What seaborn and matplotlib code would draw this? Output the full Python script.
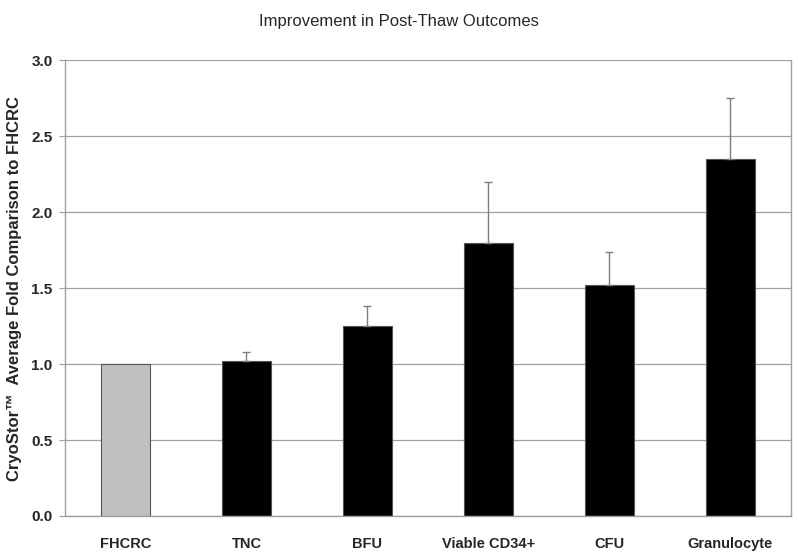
import matplotlib
matplotlib.use("Agg")
import matplotlib.pyplot as plt
import numpy as np
import pandas as pd
import seaborn as sns

# data
categories = ["FHCRC", "TNC", "BFU", "Viable CD34+", "CFU", "Granulocyte"]
fold_change = [1.00, 1.02, 1.25, 1.80, 1.52, 2.35]
error_upper = [0.00, 0.06, 0.13, 0.40, 0.22, 0.40]
bar_colors = ["#c0c0c0", "#000000", "#000000", "#000000", "#000000", "#000000"]

df = pd.DataFrame({"category": categories, "fold": fold_change})

sns.set_style("white")
plt.rcParams["font.family"] = ["Liberation Sans", "DejaVu Sans"]

fig = plt.figure(figsize=(7.98, 5.58), dpi=100)
ax = fig.add_axes([0.0815, 0.0753, 0.9095, 0.8167])

sns.barplot(data=df, x="category", y="fold", hue="category", palette=bar_colors,
            legend=False, width=0.4, edgecolor="#555555", linewidth=0.8, ax=ax)

# upper-only error bars
x = np.arange(len(categories))
mask = np.array(error_upper) > 0
ax.errorbar(x[mask], np.array(fold_change)[mask],
            yerr=[np.zeros(mask.sum()), np.array(error_upper)[mask]],
            fmt="none", ecolor="#7f7f7f", elinewidth=1, capsize=3, capthick=1)

ax.set_ylim(0, 3.0)
ax.set_xlim(-0.5, len(categories) - 0.5)
ax.set_yticks(np.arange(0, 3.01, 0.5))
ax.set_yticklabels([f"{v:.1f}" for v in np.arange(0, 3.01, 0.5)],
                   fontsize=11, fontweight="bold")
ax.yaxis.grid(True, color="#a0a0a0", linewidth=0.9)
ax.set_axisbelow(True)

# category labels centred, tick marks at category boundaries
ax.set_xticks(x)
ax.set_xticklabels(categories, fontsize=10.5, fontweight="bold")
ax.tick_params(axis="x", length=0, pad=15)
ax.set_xticks(np.arange(-0.5, len(categories), 1), minor=True)
ax.tick_params(axis="x", which="minor", length=4, color="#a0a0a0", direction="out")
ax.tick_params(axis="y", length=4, color="#a0a0a0", direction="out", left=True, pad=5)

for side in ["left", "bottom", "right"]:
    ax.spines[side].set_color("#a0a0a0")
    ax.spines[side].set_linewidth(1)
ax.spines["top"].set_visible(False)

ax.set_xlabel("")
ax.set_ylabel("CryoStor\u2122  Average Fold Comparison to FHCRC",
              fontsize=12, fontweight="bold", labelpad=7)
fig.suptitle("Improvement in Post-Thaw Outcomes", fontsize=12, y=0.975)

plt.savefig("out.png", dpi=100)
plt.close()
